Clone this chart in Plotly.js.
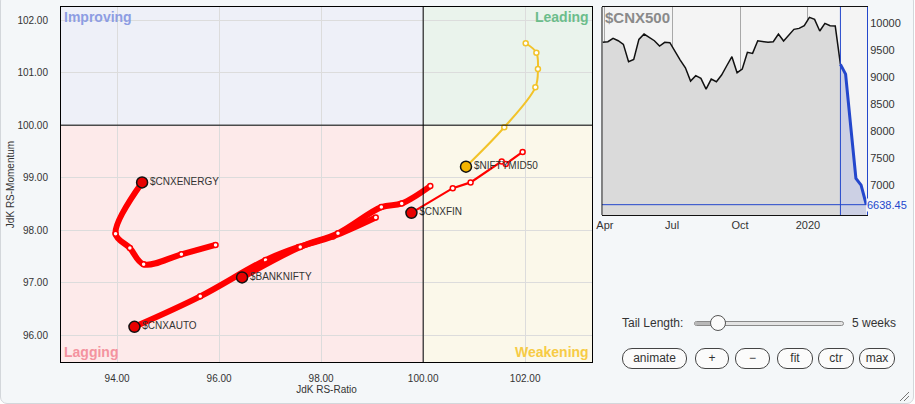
<!DOCTYPE html>
<html>
<head>
<meta charset="utf-8">
<script src="https://cdn.plot.ly/plotly-3.0.1.min.js"></script>
<style>
  body { margin:0; background:#ffffff; font-family:"Liberation Sans", Arial, sans-serif; }
  #wrap { position:relative; width:915px; height:404px; overflow:hidden; }
  #panel { position:absolute; left:0; top:-6px; width:912px; height:408px; border:1px solid #d3d7db; border-radius:7px; background:#f4f7f9; }
  #chart { position:absolute; left:0; top:0; width:915px; height:404px; }
  .ctl { position:absolute; font-size:12px; color:#333; }
  .btn { position:absolute; top:348px; height:19px; line-height:19px; border:1px solid #444; border-radius:10px; background:#fbfbfb; text-align:center; font-size:12px; color:#333; }
</style>
</head>
<body>
<div id="wrap">
  <div id="panel"></div>
  <div id="chart"></div>
  <div class="ctl" style="left:622px; top:316px;">Tail Length:</div>
  <div style="position:absolute; left:694px; top:321px; width:148px; height:3px; border:1px solid #8a8a8a; border-radius:3px; background:#e4e4e4;"></div>
  <div style="position:absolute; left:695px; top:322px; width:22px; height:3px; background:#b8b8b8;"></div>
  <div style="position:absolute; left:710px; top:315px; width:14px; height:14px; border:1px solid #555; border-radius:50%; background:#fbfbfb;"></div>
  <div class="ctl" style="left:852px; top:316px;">5 weeks</div>
  <div class="btn" style="left:622px; width:63px;">animate</div>
  <div class="btn" style="left:695px; width:32px;">+</div>
  <div class="btn" style="left:735px; width:33px;">&#8722;</div>
  <div class="btn" style="left:777px; width:34px;">fit</div>
  <div class="btn" style="left:818px; width:34px;">ctr</div>
  <div class="btn" style="left:859px; width:34px;">max</div>
  <svg style="position:absolute; left:898px; top:390px;" width="12" height="12">
    <line x1="2" y1="11" x2="11" y2="2" stroke="#777" stroke-width="1"/>
    <line x1="6" y1="11" x2="11" y2="6" stroke="#777" stroke-width="1"/>
  </svg>
</div>
<script>
// ---- RRG data (JdK RS-Ratio, JdK RS-Momentum), oldest -> newest (head) ----
const energyName = '$CNXENERGY';
const energyX = [95.93, 95.26, 94.52, 94.25, 93.97, 94.49];
const energyY = [97.72, 97.54, 97.35, 97.66, 97.93, 98.91];

const autoName = '$CNXAUTO';
const autoX = [99.07, 98.23, 97.56, 96.91, 95.63, 94.34];
const autoY = [98.24, 97.88, 97.68, 97.43, 96.74, 96.16];

const bankName = '$BANKNIFTY';
const bankX = [100.14, 99.58, 99.18, 98.33, 97.59, 96.45];
const bankY = [98.84, 98.51, 98.44, 97.94, 97.68, 97.10];

const finName = '$CNXFIN';
const finX = [101.95, 101.62, 101.54, 100.93, 100.58, 99.77];
const finY = [99.49, 99.26, 99.31, 98.91, 98.80, 98.33];

const midName = '$NIFTYMID50';
const midX = [102.01, 102.22, 102.25, 102.20, 101.59, 100.84];
const midY = [101.56, 101.38, 101.07, 100.72, 99.96, 99.21];

const xTicks = [94, 96, 98, 100, 102];
const yTicks = [96, 97, 98, 99, 100, 101, 102];
const xRange = [92.9, 103.31];
const yRange = [95.49, 102.25];

// ---- $CNX500 weekly closes ----
const cnxDates = ['2019-03-29','2019-04-05','2019-04-12','2019-04-19','2019-04-26','2019-05-03','2019-05-10','2019-05-17','2019-05-24','2019-05-31',
  '2019-06-07','2019-06-14','2019-06-21','2019-06-28','2019-07-05','2019-07-12','2019-07-19','2019-07-26','2019-08-02','2019-08-09',
  '2019-08-16','2019-08-23','2019-08-30','2019-09-06','2019-09-13','2019-09-20','2019-09-27','2019-10-04','2019-10-11','2019-10-18',
  '2019-10-25','2019-11-01','2019-11-08','2019-11-15','2019-11-22','2019-11-29','2019-12-06','2019-12-13','2019-12-20','2019-12-27',
  '2020-01-03','2020-01-10','2020-01-17','2020-01-24','2020-01-31','2020-02-07','2020-02-14','2020-02-21','2020-02-28','2020-03-06',
  '2020-03-13','2020-03-20'];
const cnxValues = [9637, 9649, 9710, 9667, 9600, 9279, 9322, 9692, 9791, 9723,
  9667, 9569, 9637, 9630, 9464, 9310, 9168, 8922, 9021, 8971,
  8774, 8959, 8910, 9033, 9205, 9372, 9076, 9144, 9452, 9433,
  9667, 9649, 9637, 9649, 9791, 9661, 9760, 9877, 9895, 9945,
  10099, 10062, 9846, 9988, 9945, 9938, 9230, 9051, 8078, 7123,
  7000, 6638.45];
const tailStart = 46;               // first week of the 5-week tail
const lastValue = 6638.45;
const cnxTickVals = ['2019-04-01', '2019-07-01', '2019-10-01', '2020-01-01'];
const cnxTickText = ['Apr', 'Jul', 'Oct', '2020'];
const cnxYTicks = [7000, 7500, 8000, 8500, 9000, 9500, 10000];
const cnxXRange = ['2019-03-28', '2020-03-21'];
const cnxYRange = [6448, 10290];

const RED = '#ff0000', YEL = '#f2c32a';
const FONT = '"Liberation Sans", Arial, sans-serif';

function tail(name, xs, ys, color, width, shape) {
  return {
    x: xs, y: ys, xaxis: 'x', yaxis: 'y', type: 'scatter', mode: 'lines+markers', name: name,
    line: { color: color, width: width, shape: shape, smoothing: 1 },
    marker: { size: 5, color: '#ffffff', line: { color: color, width: 1.5 } },
    hoverinfo: 'skip', showlegend: false
  };
}
function head(name, xs, ys, color) {
  const n = xs.length - 1;
  return {
    x: [xs[n]], y: [ys[n]], xaxis: 'x', yaxis: 'y', type: 'scatter', mode: 'markers+text',
    text: [name], textposition: 'middle right',
    textfont: { family: FONT, size: 10, color: '#333' },
    marker: { size: 11, color: color, line: { color: '#111', width: 1.5 } },
    showlegend: false
  };
}

const traces = [
  tail(midName, midX, midY, YEL, 2, 'spline'),
  tail(finName, finX, finY, RED, 2.2, 'linear'),
  tail(energyName, energyX, energyY, RED, 6, 'spline'),
  tail(autoName, autoX, autoY, RED, 6, 'spline'),
  tail(bankName, bankX, bankY, RED, 6, 'spline'),
  head(midName, midX, midY, '#f5b400'),
  head(finName, finX, finY, '#e80000'),
  head(energyName, energyX, energyY, '#e80000'),
  head(autoName, autoX, autoY, '#e80000'),
  head(bankName, bankX, bankY, '#e80000'),
  {
    x: cnxDates.slice(0, tailStart + 1), y: cnxValues.slice(0, tailStart + 1),
    xaxis: 'x2', yaxis: 'y2', type: 'scatter', mode: 'lines',
    line: { color: '#111', width: 1.5 }, fill: 'tozeroy', fillcolor: '#dadada', showlegend: false
  },
  {
    x: cnxDates.slice(tailStart), y: cnxValues.slice(tailStart),
    xaxis: 'x2', yaxis: 'y2', type: 'scatter', mode: 'lines',
    line: { color: '#2447cc', width: 3 }, fill: 'tozeroy', fillcolor: '#ccd0e4', showlegend: false
  }
];

const quad = [
  { x0: xRange[0], x1: 100, y0: 100, y1: yRange[1], c: '#eef0f8' },
  { x0: 100, x1: xRange[1], y0: 100, y1: yRange[1], c: '#eaf3ec' },
  { x0: xRange[0], x1: 100, y0: yRange[0], y1: 100, c: '#fdeaea' },
  { x0: 100, x1: xRange[1], y0: yRange[0], y1: 100, c: '#fbf8ea' }
];
const shapes = quad.map(q => ({ type: 'rect', xref: 'x', yref: 'y', x0: q.x0, x1: q.x1, y0: q.y0, y1: q.y1,
  fillcolor: q.c, line: { width: 0 }, layer: 'below' }));
shapes.push({ type: 'line', xref: 'x', yref: 'y domain', x0: 100, x1: 100, y0: 0, y1: 1, line: { color: '#000', width: 1 } });
shapes.push({ type: 'line', xref: 'x domain', yref: 'y', x0: 0, x1: 1, y0: 100, y1: 100, line: { color: '#000', width: 1 } });
shapes.push({ type: 'line', xref: 'x2', yref: 'y2 domain', x0: cnxDates[tailStart], x1: cnxDates[tailStart], y0: 0, y1: 1, line: { color: '#2447cc', width: 1 } });
shapes.push({ type: 'line', xref: 'x2 domain', yref: 'y2', x0: 0, x1: 1, y0: lastValue, y1: lastValue, line: { color: '#2447cc', width: 1 } });
shapes.push({ type: 'line', xref: 'x2 domain', yref: 'y2 domain', x0: 0, x1: 0, y0: 0, y1: 1, line: { color: '#111', width: 1 } });

const qlab = (text, x, y, xa, ya, color) => ({ text: '<b>' + text + '</b>', xref: 'x domain', yref: 'y domain', x: x, y: y,
  xanchor: xa, yanchor: ya, showarrow: false, font: { family: FONT, size: 14, color: color } });

const annotations = [
  qlab('Improving', 0.002, 1.0, 'left', 'top', '#8d9de3'),
  qlab('Leading', 0.998, 1.0, 'right', 'top', '#6cbd8b'),
  qlab('Lagging', 0.002, 0.0, 'left', 'bottom', '#f4939f'),
  qlab('Weakening', 0.998, 0.0, 'right', 'bottom', '#f7cb45'),
  { text: '<b>$CNX500</b>', xref: 'x2 domain', yref: 'y2 domain', x: 0.005, y: 1.0, xanchor: 'left', yanchor: 'top',
    showarrow: false, font: { family: FONT, size: 15, color: '#8a8a8a' } },
  { text: String(lastValue), xref: 'x2 domain', yref: 'y2', x: 1, y: lastValue, xanchor: 'left', yanchor: 'middle',
    xshift: -1, showarrow: false, bgcolor: '#f4f7f9', borderpad: 0, font: { family: FONT, size: 11, color: '#2447cc' } }
];

const layout = {
  width: 915, height: 404,
  margin: { l: 61, r: 48, t: 7, b: 42 },
  paper_bgcolor: 'rgba(0,0,0,0)',
  font: { family: FONT, size: 10, color: '#333' },
  showlegend: false,
  xaxis: {
    domain: [0, 0.6588], range: xRange, tickvals: xTicks, tickformat: '.2f',
    showgrid: true, gridcolor: '#dcdcdc', zeroline: false,
    showline: true, linecolor: '#000', linewidth: 1, mirror: true,
    ticks: 'outside', ticklen: 7, tickcolor: 'rgba(0,0,0,0)',
    tickfont: { family: FONT, size: 10, color: '#333' },
    title: { text: 'JdK RS-Ratio', standoff: 1, font: { family: FONT, size: 10, color: '#333' } }
  },
  yaxis: {
    domain: [0, 1], range: yRange, tickvals: yTicks, tickformat: '.2f',
    showgrid: true, gridcolor: '#dcdcdc', zeroline: false,
    showline: true, linecolor: '#000', linewidth: 1, mirror: true,
    ticks: 'outside', ticklen: 10, tickcolor: 'rgba(0,0,0,0)',
    tickfont: { family: FONT, size: 10, color: '#333' },
    title: { text: 'JdK RS-Momentum', standoff: 0, font: { family: FONT, size: 10, color: '#333' } }
  },
  xaxis2: {
    anchor: 'y2', domain: [0.6712, 1], range: cnxXRange, type: 'date',
    tickvals: cnxTickVals, ticktext: cnxTickText,
    showgrid: true, gridcolor: '#a8a8a8', zeroline: false,
    showline: true, linecolor: '#111', linewidth: 1, mirror: true,
    ticks: '', tickfont: { family: FONT, size: 11, color: '#333' }
  },
  yaxis2: {
    anchor: 'x2', domain: [0.4141, 1], range: cnxYRange, side: 'right',
    tickvals: cnxYTicks, tickformat: 'd', showgrid: false, zeroline: false,
    showline: true, linecolor: '#2447cc', linewidth: 1,
    ticks: '', tickfont: { family: FONT, size: 11, color: '#333' }
  },
  plot_bgcolor: '#f4f4f4',
  shapes: shapes,
  annotations: annotations
};

Plotly.newPlot('chart', traces, layout, { displayModeBar: false, staticPlot: true });
</script>
</body>
</html>
